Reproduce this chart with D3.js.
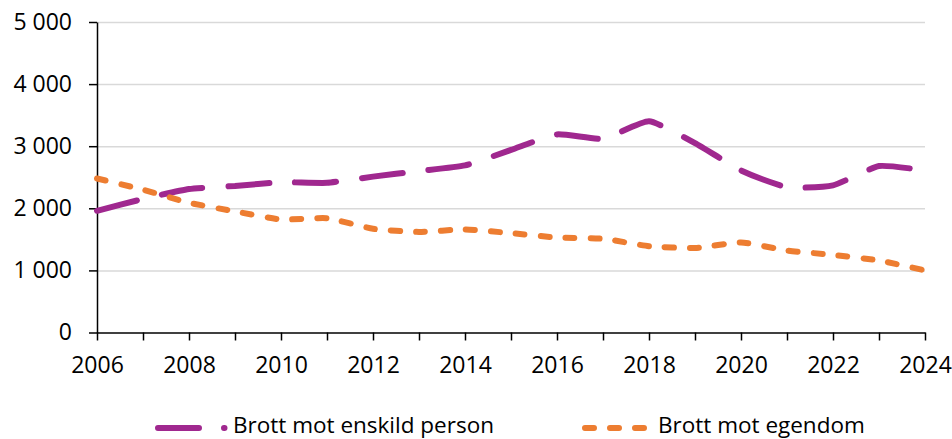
<!DOCTYPE html>
<html>
<head>
<meta charset="utf-8">
<script src="https://cdn.jsdelivr.net/npm/d3@7"></script>
<style>
  body { margin: 0; background: #fff; }
  svg { display: block; font-family: "Open Sans", sans-serif; }
</style>
</head>
<body>
<div id="chart"></div>
<script>
var years = [2006, 2007, 2008, 2009, 2010, 2011, 2012, 2013, 2014, 2015,
             2016, 2017, 2018, 2019, 2020, 2021, 2022, 2023, 2024];
var enskildPerson = [1960, 2150, 2310, 2360, 2420, 2410, 2510, 2600, 2690, 2940,
                     3190, 3120, 3400, 3050, 2610, 2340, 2370, 2680, 2610];
var egendom = [2480, 2300, 2090, 1950, 1820, 1840, 1670, 1620, 1660, 1600,
               1530, 1510, 1390, 1360, 1450, 1320, 1250, 1160, 1000];
var yTicks = [0, 1000, 2000, 3000, 4000, 5000];
var xLabelYears = [2006, 2008, 2010, 2012, 2014, 2016, 2018, 2020, 2022, 2024];
var seriesNames = ["Brott mot enskild person", "Brott mot egendom"];

var width = 952;
var height = 439;
var margin = ({ top: 22, right: 27, bottom: 106.5, left: 97 });

var purple = "#A0288F";
var orange = "#ED7D31";

const svg = d3.select("#chart")
    .append("svg")
    .attr("width", width)
    .attr("height", height);

var x = d3.scaleLinear()
    .domain([2006, 2024])
    .range([margin.left, width - margin.right]);
var y = d3.scaleLinear()
    .domain([0, 5000])
    .range([height - margin.bottom, margin.top]);

var fmt = d => d3.format(",")(d).replace(/,/g, " ");

// grid lines
svg.append("g")
    .attr("transform", `translate(${margin.left},0)`)
    .call(d3.axisRight(y).tickValues(yTicks.slice(1)).tickSize(width - margin.left - margin.right).tickFormat(""))
    .call(g => g.select(".domain").remove())
    .call(g => g.selectAll(".tick line")
        .attr("stroke", "#D9D9D9")
        .attr("stroke-width", 1.5));

// y axis
svg.append("g")
    .attr("transform", `translate(${margin.left},0)`)
    .call(d3.axisLeft(y).tickValues(yTicks).tickFormat(fmt).tickSize(8).tickSizeOuter(0).tickPadding(17))
    .call(g => g.selectAll("line, path").attr("stroke", "#000").attr("stroke-width", 1.5))
    .call(g => g.selectAll(".tick text")
        .attr("fill", "#000")
        .style("font-size", "23px")
        .style("font-family", "Open Sans"));

// x axis
svg.append("g")
    .attr("transform", `translate(0,${height - margin.bottom})`)
    .call(d3.axisBottom(x).tickValues(years).tickSize(8).tickSizeOuter(0).tickPadding(16)
        .tickFormat(d => xLabelYears.includes(d) ? String(d) : ""))
    .call(g => g.selectAll("line, path").attr("stroke", "#000").attr("stroke-width", 1.5))
    .call(g => g.selectAll(".tick text")
        .attr("fill", "#000")
        .style("font-size", "23px")
        .style("font-family", "Open Sans"));

var line = d3.line()
    .x((d, i) => x(years[i]))
    .y(d => y(d))
    .curve(d3.curveCardinal.tension(0.5));

// series lines
svg.append("path")
    .datum(enskildPerson)
    .attr("fill", "none")
    .attr("stroke", purple)
    .attr("stroke-width", 6)
    .attr("stroke-linecap", "round")
    .attr("stroke-dasharray", "41,26")
    .attr("d", line);

svg.append("path")
    .datum(egendom)
    .attr("fill", "none")
    .attr("stroke", orange)
    .attr("stroke-width", 6)
    .attr("stroke-linecap", "round")
    .attr("stroke-dasharray", "9,16")
    .attr("d", line);

// legend
var legend = svg.append("g");
legend.append("line")
    .attr("x1", 158).attr("x2", 224.5)
    .attr("y1", 428).attr("y2", 428)
    .attr("stroke", purple)
    .attr("stroke-width", 6)
    .attr("stroke-linecap", "round")
    .attr("stroke-dasharray", "41,25");
legend.append("text")
    .attr("x", 233).attr("y", 433)
    .style("font-size", "22.5px")
    .attr("fill", "#000")
    .text(seriesNames[0]);

legend.append("line")
    .attr("x1", 585).attr("x2", 644)
    .attr("y1", 428).attr("y2", 428)
    .attr("stroke", orange)
    .attr("stroke-width", 6)
    .attr("stroke-linecap", "round")
    .attr("stroke-dasharray", "9,16");
legend.append("text")
    .attr("x", 658).attr("y", 433)
    .style("font-size", "22.5px")
    .attr("fill", "#000")
    .text(seriesNames[1]);
</script>
</body>
</html>
